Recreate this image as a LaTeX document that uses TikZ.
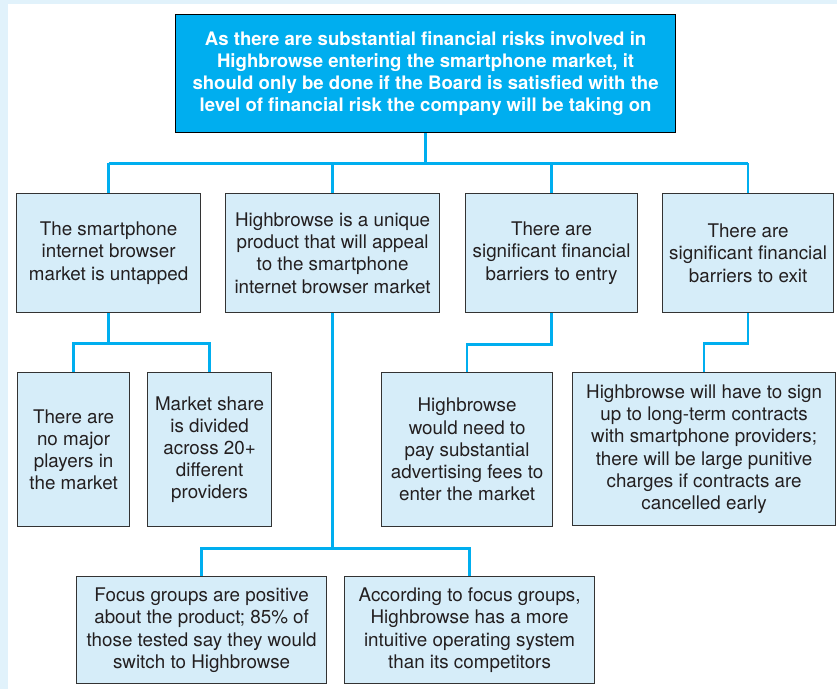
\documentclass[tikz,border=0pt]{standalone}
\usepackage{fontspec}
\setmainfont{TeX Gyre Heros}
\definecolor{linkblue}{HTML}{00AEEF}
\definecolor{headfill}{HTML}{00AEEF}
\definecolor{boxfill}{HTML}{D6EDF9}
\definecolor{boxedge}{HTML}{333333}
\definecolor{inktext}{HTML}{231F20}
\definecolor{pagetint}{HTML}{E1F2FB}
\tikzset{
  box/.style={draw=boxedge, line width=1.2pt, fill=boxfill, text=inktext,
    anchor=north west, inner sep=0pt, align=center,
    font=\fontsize{18.8}{22.2}\selectfont},
  headbox/.style={box, fill=headfill, draw=black, text=white,
    font=\fontsize{18.6}{22.2}\selectfont\bfseries},
  link/.style={draw=linkblue, line width=2.6pt}
}
\begin{document}
\begin{tikzpicture}[x=1pt,y=1pt]
  % page background
  \useasboundingbox (0,0) rectangle (837,-689);
  \fill[pagetint] (0,0) rectangle (837,-689);
  \fill[white] (8,-4) rectangle (837,-689);

  % root statement
  \node[headbox, minimum width=500, minimum height=118] (top) at (175,-14)
    {As there are substantial financial risks involved in\\
     Highbrowse entering the smartphone market, it\\
     should only be done if the Board is satisfied with the\\
     level of financial risk the company will be taking on};

  % first level
  \node[box, minimum width=184, minimum height=119] (b1) at (16,-193)
    {The smartphone\\internet browser\\market is untapped};
  \node[box, minimum width=214, minimum height=119] (b2) at (225,-193)
    {Highbrowse is a unique\\product that will appeal\\to the smartphone\\internet browser market};
  \node[box, minimum width=172, minimum height=119] (b3) at (465,-193)
    {There are\\significant financial\\barriers to entry};
  \node[box, minimum width=171, minimum height=119] (b4) at (662,-193)
    {There are\\significant financial\\barriers to exit};

  % second level
  \node[box, minimum width=112, minimum height=154] (c1) at (17,-372)
    {There are\\no major\\players in\\the market};
  \node[box, minimum width=124, minimum height=154] (c2) at (147,-372)
    {Market share\\is divided\\across 20+\\different\\providers};
  \node[box, minimum width=171, minimum height=154] (c3) at (381,-372)
    {Highbrowse\\would need to\\pay substantial\\advertising fees to\\enter the market};
  \node[box, minimum width=263, minimum height=153] (c4) at (572,-372)
    {Highbrowse will have to sign\\up to long-term contracts\\with smartphone providers;\\there will be large punitive\\charges if contracts are\\cancelled early};

  % evidence under the product box
  \node[box, minimum width=250, minimum height=107] (d1) at (76,-576)
    {Focus groups are positive\\about the product; 85\% of\\those tested say they would\\switch to Highbrowse};
  \node[box, minimum width=250, minimum height=107] (d2) at (344,-576)
    {According to focus groups,\\Highbrowse has a more\\intuitive operating system\\than its competitors};

  % connectors
  \draw[link] (top.south) -- ++(0,-30) coordinate (bar);
  \draw[link] (b1.north |- bar) -- (b4.north |- bar);
  \foreach \n in {b1,b2,b3,b4} \draw[link] (\n.north) -- (\n.north |- bar);

  \draw[link] (b1.south) -- ++(0,-30) -| (c1.north);
  \draw[link] (b1.south) -- ++(0,-30) -| (c2.north);
  \draw[link] (b3.south) -- ++(0,-31) -| (c3.north);
  \draw[link] (b4.south) -- ++(0,-30) -| (c4.north);
  \draw[link] (b2.south) -- ++(0,-235) -| (d1.north);
  \draw[link] (b2.south) -- ++(0,-235) -| (d2.north);
\end{tikzpicture}
\end{document}
